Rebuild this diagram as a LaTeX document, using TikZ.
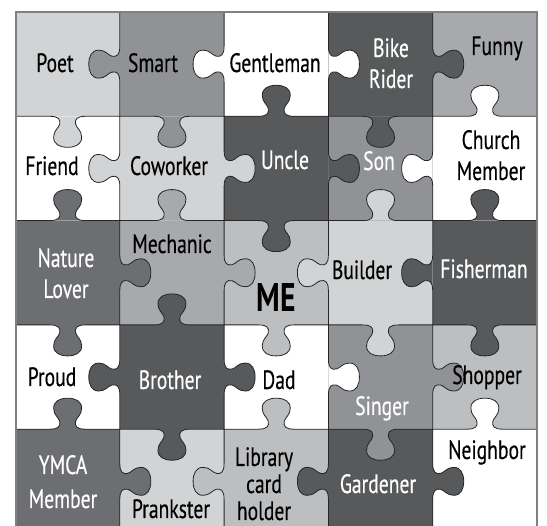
\documentclass[tikz,border=0pt]{standalone}
\usepackage{fontspec}
\setmainfont{PT Sans}[FakeStretch=0.74,UprightFeatures={FakeBold=0.35}]

\definecolor{pzA}{HTML}{FFFFFF}
\definecolor{pzB}{HTML}{D1D3D4}
\definecolor{pzC}{HTML}{BCBEC0}
\definecolor{pzD}{HTML}{A7A9AC}
\definecolor{pzE}{HTML}{909295}
\definecolor{pzF}{HTML}{6D6E71}
\definecolor{pzG}{HTML}{58595B}

\tikzset{
  knob/.style={insert path={.. controls (-9,0) and (-7,3) .. (-8,8)
      .. controls (-9,12) and (-14,14) .. (-14,21)
      .. controls (-14,28) and (-8,31) .. (0,31)
      .. controls (8,31) and (14,28) .. (14,21)
      .. controls (14,14) and (9,12) .. (8,8)
      .. controls (7,3) and (9,0) .. (18,0)}},
  kr/.style={x={(0pt,1pt)},y={(1pt,0pt)}},
  kl/.style={x={(0pt,1pt)},y={(-1pt,0pt)}},
  kd/.style={x={(1pt,0pt)},y={(0pt,-1pt)}},
  ku/.style={x={(1pt,0pt)},y={(0pt,1pt)}},
  pzline/.style={line width=0.8pt,black!85},
  lbl/.style={anchor=base,align=center,inner sep=0pt,font=\fontsize{26.5}{31}\selectfont},
}

% one inner edge: midpoint x, midpoint y, knob direction, colour of the knob
\newcommand{\pzedge}[4]{%
  \begin{scope}[shift={(#1,#2)},#3]
    \fill[#4] (-18,0) [knob] -- cycle;
    \draw[pzline] (-52.2,0) -- (-18,0) [knob] -- (52.2,0);
  \end{scope}}

\begin{document}
\begin{tikzpicture}[x=1pt,y=-1pt]
    \useasboundingbox (0,0) rectangle (547,526);
    \clip (0,0) rectangle (547,526);
    \fill[white] (0,0) rectangle (547,526);
    % tiles
    \foreach \c/\r/\col in {0/0/pzB,1/0/pzE,2/0/pzA,3/0/pzG,4/0/pzD,
                            0/1/pzA,1/1/pzB,2/1/pzG,3/1/pzE,4/1/pzA,
                            0/2/pzF,1/2/pzD,2/2/pzC,3/2/pzB,4/2/pzG,
                            0/3/pzA,1/3/pzG,2/3/pzA,3/3/pzE,4/3/pzC,
                            0/4/pzF,1/4/pzB,2/4/pzC,3/4/pzG,4/4/pzA}
        \fill[\col] (15.5+104.3*\c,12+104.3*\r) rectangle ++(104.3,104.3);
    % edges between columns
    \foreach \c/\r/\d/\col in {0/0/kl/pzE,1/0/kl/pzA,2/0/kr/pzA,3/0/kr/pzG,
                               0/1/kl/pzB,1/1/kr/pzB,2/1/kr/pzG,3/1/kl/pzA,
                               0/2/kr/pzF,1/2/kr/pzD,2/2/kl/pzB,3/2/kl/pzG,
                               0/3/kl/pzG,1/3/kr/pzG,2/3/kr/pzA,3/3/kr/pzE,
                               0/4/kr/pzF,1/4/kl/pzC,2/4/kl/pzG,3/4/kr/pzG}
        \pzedge{15.5+104.3*\c+104.3}{12+104.3*\r+52.15}{\d}{\col};
    % edges between rows
    \foreach \c/\r/\d/\col in {0/0/kd/pzB,1/0/kd/pzE,2/0/ku/pzG,3/0/kd/pzG,4/0/ku/pzA,
                               0/1/ku/pzF,1/1/ku/pzD,2/1/kd/pzG,3/1/ku/pzB,4/1/ku/pzG,
                               0/2/kd/pzF,1/2/ku/pzG,2/2/kd/pzC,3/2/kd/pzB,4/2/kd/pzG,
                               0/3/ku/pzF,1/3/kd/pzG,2/3/ku/pzC,3/3/kd/pzE,4/3/ku/pzA}
        \pzedge{15.5+104.3*\c+52.15}{12+104.3*\r+104.3}{\d}{\col};
    \draw[line width=2pt,gray] (15.5,12) rectangle (537,560);
    % labels
    \foreach \nm/\px/\py/\txt/\tc in {poet/55/72/Poet/black,smart/153/72/Smart/black,
            gent/275/72/Gentleman/black,bike/391/88/{Bike\\Rider}/white,funny/497/55/Funny/black,
            friend/52/175/Friend/black,cowork/169/175/Coworker/black,uncle/285/169/Uncle/white,
            son/379/170/Son/white,church/491/180/{Church\\Member}/black,
            nature/66/298/{Nature\\Lover}/white,mech/172/253/Mechanic/black,
            builder/362/279/Builder/black,fisher/484/278/Fisherman/white,
            proud/52/386/Proud/black,brother/170/389/Brother/white,dad/279/389/Dad/black,
            singer/382/415/Singer/white,shopper/487/384/Shopper/black,
            prank/171/518/Prankster/black,garden/378/493/Gardener/white,neighbor/487/459/Neighbor/black}
        \node[lbl,text=\tc] (\nm) at (\px,\py) {\txt};
    \node[lbl,text=white,font=\fontsize{26.5}{34}\selectfont] (ymca) at (63,508) {YMCA\\Member};
    \node[lbl,font=\fontsize{26.5}{27}\selectfont] (library) at (264,520) {Library\\card\\holder};
    \node[lbl,font=\fontsize{40}{40}\selectfont\bfseries] (me) at (276,312) {ME};
\end{tikzpicture}
\end{document}
